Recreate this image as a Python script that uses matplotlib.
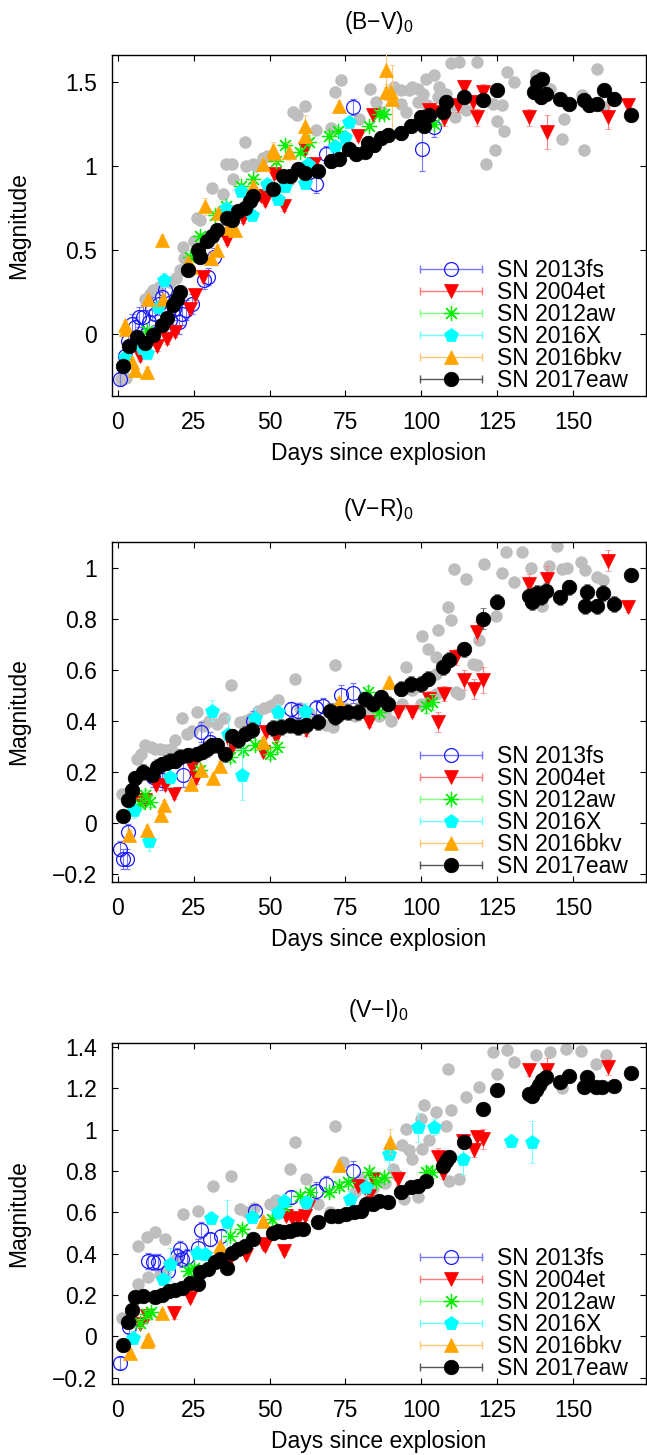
import numpy as np
import matplotlib.pyplot as plt
from matplotlib.lines import Line2D
from matplotlib.legend_handler import HandlerLine2D, HandlerTuple
from matplotlib.ticker import FuncFormatter

plt.rcParams['font.family'] = ['Liberation Sans', 'DejaVu Sans']
plt.rcParams['mathtext.default'] = 'regular'

# ---------------- Datos: (dias, color, error) ----------------
# (B-V)_0
bv_13fs = [(0.7, -0.27, 0.04), (2.3, -0.13, 0.05), (3.4, -0.045, 0.06), (4.6, 0.06, 0.06), (5.6, 0.04, 0.06),
           (6.8, 0.10, 0.06), (8.4, 0.10, 0.07), (10.1, 0.07, 0.07), (11.2, 0.15, 0.07), (12.3, 0.12, 0.07),
           (13.4, 0.18, 0.07), (14.5, 0.22, 0.07), (15.6, 0.26, 0.06), (17.2, 0.08, 0.07), (18.5, 0.15, 0.07),
           (20.0, 0.07, 0.07), (21.0, 0.12, 0.07), (22.5, 0.14, 0.06), (24.3, 0.18, 0.06), (28.2, 0.32, 0.05),
           (29.8, 0.34, 0.05), (31.5, 0.46, 0.05), (65.4, 0.89, 0.05), (68.6, 1.07, 0.05), (77.4, 1.35, 0.05),
           (100.4, 1.10, 0.13), (104.3, 1.23, 0.06)]
bv_04et = [(7.2, -0.13, 0.03), (12.7, -0.07, 0.03), (16.0, -0.03, 0.03), (18.8, 0.01, 0.03), (23.7, 0.15, 0.03),
           (25.3, 0.23, 0.03), (28.1, 0.34, 0.03), (35.9, 0.56, 0.03), (41.3, 0.69, 0.03), (47.3, 0.82, 0.03),
           (48.4, 0.79, 0.03), (51.6, 0.95, 0.03), (54.9, 0.76, 0.03), (57.1, 0.92, 0.03), (61.5, 1.10, 0.03),
           (64.5, 1.01, 0.03), (79.0, 1.18, 0.03), (84.0, 1.30, 0.03), (102.6, 1.33, 0.04), (103.5, 1.32, 0.04),
           (107.6, 1.28, 0.04), (112.0, 1.36, 0.04), (114.1, 1.47, 0.04), (116.9, 1.38, 0.04), (118.5, 1.29, 0.05),
           (120.2, 1.44, 0.05), (135.5, 1.29, 0.05), (141.6, 1.20, 0.10), (161.6, 1.29, 0.07), (168.2, 1.36, 0.03)]
bv_12aw = [(9.5, 0.02, 0.02), (23.7, 0.46, 0.02), (27.0, 0.58, 0.02), (31.9, 0.71, 0.02), (35.7, 0.76, 0.02),
           (40.5, 0.88, 0.02), (44.5, 0.92, 0.02), (52.2, 1.03, 0.02), (55.0, 1.125, 0.02), (60.0, 1.085, 0.02),
           (62.9, 1.145, 0.02), (69.5, 1.18, 0.02), (72.5, 1.21, 0.02), (82.6, 1.235, 0.02), (86.2, 1.31, 0.02),
           (87.8, 1.31, 0.02), (104.3, 1.25, 0.02)]
bv_16X = [(2.3, -0.135, 0.03), (7.8, -0.085, 0.03), (9.4, -0.115, 0.03), (13.3, 0.16, 0.03), (15.3, 0.32, 0.04),
          (35.5, 0.75, 0.03), (40.5, 0.85, 0.03), (44.3, 0.71, 0.03), (49.0, 0.89, 0.03), (52.7, 0.80, 0.03),
          (55.0, 0.88, 0.03), (61.7, 0.90, 0.03), (62.6, 1.01, 0.03), (71.4, 1.12, 0.03), (74.7, 1.17, 0.03),
          (76.3, 1.26, 0.03)]
bv_16bkv = [(2.3, 0.054, 0.03), (2.8, 0.03, 0.03), (4.5, -0.165, 0.03), (5.6, -0.215, 0.03), (9.4, -0.225, 0.03),
            (10.0, 0.21, 0.03), (14.4, 0.56, 0.03), (15.0, 0.21, 0.03), (23.1, 0.43, 0.03), (24.0, 0.40, 0.03),
            (28.6, 0.76, 0.05), (30.8, 0.45, 0.03), (32.5, 0.50, 0.03), (33.0, 0.72, 0.03), (36.3, 0.63, 0.04),
            (38.6, 0.62, 0.04), (44.6, 0.88, 0.03), (47.8, 1.01, 0.04), (51.1, 1.095, 0.05), (51.6, 1.075, 0.05),
            (56.3, 1.085, 0.05), (61.5, 1.24, 0.06), (61.5, 1.175, 0.04), (73.0, 1.355, 0.03), (88.3, 1.57, 0.10),
            (88.4, 1.44, 0.05), (90.0, 1.44, 0.05), (90.4, 1.40, 0.20)]
bv_17eaw = [(1.5, -0.19, 0.03), (3.5, -0.075, 0.03), (6.2, -0.016, 0.03), (9.0, -0.055, 0.03), (11.7, -0.006, 0.03),
            (14.5, 0.054, 0.03), (16.1, 0.093, 0.03), (18.3, 0.173, 0.03), (19.4, 0.21, 0.03), (20.5, 0.25, 0.03),
            (23.2, 0.38, 0.03), (26.3, 0.50, 0.03), (27.1, 0.46, 0.03), (29.3, 0.55, 0.03), (30.9, 0.58, 0.03),
            (32.6, 0.62, 0.03), (35.9, 0.69, 0.03), (37.5, 0.68, 0.03), (39.7, 0.73, 0.03), (41.9, 0.75, 0.03),
            (43.5, 0.79, 0.03), (44.6, 0.82, 0.03), (51.1, 0.86, 0.03), (54.4, 0.94, 0.03), (56.6, 0.94, 0.03),
            (59.3, 0.98, 0.03), (61.5, 0.96, 0.03), (65.9, 0.97, 0.03), (70.3, 1.03, 0.04), (73.0, 1.04, 0.04),
            (76.3, 1.10, 0.04), (78.5, 1.07, 0.04), (81.3, 1.085, 0.04), (82.3, 1.135, 0.04), (84.5, 1.125, 0.04),
            (86.7, 1.165, 0.04), (88.9, 1.185, 0.04), (93.3, 1.195, 0.04), (96.6, 1.24, 0.04), (99.9, 1.29, 0.04),
            (101.0, 1.24, 0.04), (102.6, 1.30, 0.04), (107.0, 1.32, 0.04), (108.1, 1.38, 0.04), (114.1, 1.41, 0.04),
            (120.2, 1.39, 0.04), (125.1, 1.45, 0.04), (137.2, 1.44, 0.04), (138.3, 1.50, 0.04), (139.9, 1.515, 0.04),
            (139.4, 1.41, 0.04), (141.0, 1.43, 0.04), (145.9, 1.40, 0.03), (148.7, 1.37, 0.03), (153.6, 1.39, 0.04),
            (155.3, 1.36, 0.04), (158.0, 1.37, 0.04), (160.2, 1.45, 0.03), (163.7, 1.40, 0.04), (169.2, 1.30, 0.03)]
bv_gris = [(1.0, -0.27), (2.5, -0.26), (9.0, 0.21), (10.5, 0.24), (11.7, 0.26), (13.5, 0.28), (17.2, 0.31),
           (19.0, 0.33), (20.4, 0.38), (21.6, 0.45), (21.5, 0.52), (24.9, 0.55), (26.0, 0.69), (27.0, 0.68),
           (30.9, 0.87), (34.6, 0.83), (35.7, 1.01), (37.5, 1.01), (37.9, 0.92), (41.8, 1.145), (42.3, 1.0),
           (44.5, 1.01), (45.5, 1.0), (47.8, 1.045), (49.0, 1.06), (57.7, 1.32), (59.0, 1.30), (61.5, 1.355),
           (65.4, 1.215), (70.3, 1.225), (71.4, 1.44), (73.6, 1.51), (79.6, 1.28), (83.0, 1.46), (85.0, 1.38),
           (87.0, 1.32), (89.0, 1.42), (91.0, 1.47), (93.3, 1.45), (93.3, 1.37), (95.0, 1.32), (96.0, 1.45),
           (97.1, 1.47), (98.8, 1.46), (99.0, 1.38), (100.5, 1.43), (101.5, 1.52), (102.0, 1.36), (104.3, 1.54),
           (105.4, 1.41), (106.0, 1.47), (108.0, 1.43), (109.8, 1.61), (110.3, 1.36), (111.0, 1.29), (112.5, 1.62),
           (114.7, 1.33), (118.5, 1.62), (121.3, 1.01), (123.5, 1.37), (124.3, 1.095), (125.1, 1.27), (126.7, 1.36),
           (127.3, 1.21), (128.4, 1.56), (130.6, 1.50), (137.7, 1.54), (142.6, 1.46), (146.3, 1.16), (147.0, 1.28),
           (153.1, 1.42), (153.6, 1.095), (158.0, 1.575), (160.2, 1.35)]

# (V-R)_0
vr_13fs = [(0.7, -0.10, 0.03), (1.8, -0.14, 0.04), (3.0, -0.14, 0.04), (3.4, -0.035, 0.03), (11.6, 0.18, 0.04),
           (14.5, 0.17, 0.04), (21.3, 0.19, 0.05), (27.5, 0.357, 0.04), (30.3, 0.318, 0.04), (44.5, 0.40, 0.04),
           (57.1, 0.445, 0.03), (59.5, 0.44, 0.03), (65.4, 0.45, 0.03), (67.5, 0.46, 0.03), (73.6, 0.50, 0.04),
           (77.4, 0.51, 0.04)]
vr_04et = [(7.2, 0.09, 0.02), (9.0, 0.09, 0.02), (12.5, 0.148, 0.02), (15.6, 0.148, 0.02), (18.5, 0.116, 0.02),
           (24.3, 0.22, 0.02), (25.6, 0.175, 0.02), (37.5, 0.30, 0.02), (47.8, 0.28, 0.02), (48.9, 0.357, 0.02),
           (52.2, 0.337, 0.02), (62.1, 0.363, 0.02), (82.9, 0.396, 0.02), (92.2, 0.435, 0.02), (97.1, 0.435, 0.02),
           (102.6, 0.487, 0.03), (105.4, 0.396, 0.04), (107.6, 0.507, 0.03), (111.4, 0.65, 0.03), (114.1, 0.56, 0.04),
           (117.4, 0.526, 0.04), (118.5, 0.747, 0.04), (120.2, 0.56, 0.05), (135.5, 0.936, 0.04),
           (141.6, 0.955, 0.05), (161.6, 1.027, 0.04), (168.2, 0.845, 0.02)]
vr_12aw = [(7.3, 0.077, 0.02), (9.0, 0.109, 0.02), (10.6, 0.083, 0.02), (27.1, 0.207, 0.02), (36.9, 0.26, 0.02),
           (41.3, 0.285, 0.02), (45.2, 0.305, 0.02), (50.0, 0.27, 0.02), (52.5, 0.30, 0.02), (82.4, 0.515, 0.02),
           (86.2, 0.435, 0.02), (101.5, 0.46, 0.03), (103.7, 0.474, 0.03)]
vr_16X = [(5.2, 0.05, 0.03), (10.1, -0.07, 0.04), (17.2, 0.18, 0.04), (30.9, 0.44, 0.04), (36.4, 0.35, 0.07),
          (40.8, 0.19, 0.10), (45.2, 0.41, 0.04), (52.8, 0.435, 0.03), (61.5, 0.44, 0.03)]
vr_16bkv = [(3.5, -0.045, 0.02), (9.4, -0.027, 0.02), (14.2, 0.031, 0.02), (15.3, 0.07, 0.02), (24.0, 0.152, 0.02),
            (27.3, 0.208, 0.02), (31.2, 0.175, 0.02), (33.6, 0.222, 0.02), (47.8, 0.318, 0.02), (72.8, 0.474, 0.02),
            (89.5, 0.552, 0.02)]
vr_17eaw = [(1.6, 0.027, 0.02), (3.3, 0.09, 0.02), (4.6, 0.13, 0.02), (5.7, 0.175, 0.03), (8.4, 0.20, 0.03),
            (11.2, 0.19, 0.03), (12.8, 0.22, 0.03), (14.5, 0.23, 0.03), (15.8, 0.237, 0.03), (17.2, 0.245, 0.03),
            (18.8, 0.245, 0.03), (20.5, 0.26, 0.03), (23.2, 0.265, 0.03), (26.0, 0.27, 0.03), (27.6, 0.28, 0.03),
            (29.3, 0.29, 0.03), (30.9, 0.305, 0.03), (32.6, 0.305, 0.03), (35.3, 0.27, 0.03), (37.5, 0.34, 0.03),
            (39.7, 0.325, 0.03), (41.9, 0.35, 0.03), (44.1, 0.365, 0.03), (51.1, 0.372, 0.03), (53.8, 0.376, 0.03),
            (56.6, 0.383, 0.03), (59.3, 0.376, 0.03), (62.1, 0.383, 0.03), (65.9, 0.396, 0.03), (70.0, 0.44, 0.03),
            (71.4, 0.415, 0.03), (73.3, 0.43, 0.03), (75.8, 0.435, 0.03), (79.3, 0.435, 0.03), (81.6, 0.484, 0.03),
            (84.0, 0.467, 0.03), (86.7, 0.493, 0.03), (88.9, 0.467, 0.03), (93.3, 0.526, 0.03), (96.6, 0.545, 0.03),
            (99.9, 0.545, 0.03), (102.1, 0.565, 0.03), (107.0, 0.61, 0.03), (109.2, 0.64, 0.03), (114.1, 0.68, 0.03),
            (120.2, 0.80, 0.04), (125.1, 0.867, 0.03), (135.5, 0.89, 0.03), (136.6, 0.865, 0.03), (138.3, 0.90, 0.03),
            (139.5, 0.885, 0.03), (141.0, 0.91, 0.03), (145.9, 0.884, 0.03), (148.7, 0.923, 0.03),
            (153.9, 0.85, 0.03), (154.7, 0.906, 0.03), (158.0, 0.848, 0.03), (160.0, 0.90, 0.03),
            (163.7, 0.858, 0.03), (169.2, 0.97, 0.02)]
vr_gris = [(1.3, 0.116), (6.3, 0.253), (7.5, 0.27), (9.0, 0.305), (10.8, 0.30), (12.3, 0.29), (14.0, 0.29),
           (15.6, 0.285), (17.5, 0.29), (18.8, 0.324), (21.0, 0.41), (22.7, 0.35), (24.5, 0.36), (25.9, 0.435),
           (28.0, 0.38), (30.0, 0.40), (32.5, 0.39), (34.8, 0.41), (37.4, 0.54), (40.1, 0.396), (42.0, 0.40),
           (44.0, 0.41), (46.3, 0.44), (48.0, 0.45), (50.0, 0.46), (51.6, 0.467), (52.8, 0.48), (58.2, 0.565),
           (60.0, 0.45), (63.0, 0.43), (68.6, 0.383), (70.8, 0.376), (71.4, 0.617), (72.0, 0.45), (75.0, 0.45),
           (78.0, 0.42), (80.0, 0.46), (83.0, 0.44), (86.0, 0.42), (88.0, 0.43), (90.0, 0.40), (93.8, 0.467),
           (95.0, 0.61), (97.0, 0.52), (99.9, 0.467), (100.4, 0.734), (102.1, 0.68), (104.8, 0.65), (104.8, 0.507),
           (104.8, 0.585), (105.4, 0.754), (108.7, 0.845), (109.8, 0.793), (110.9, 0.995), (111.4, 0.513),
           (112.5, 0.506), (114.7, 0.955), (116.9, 0.624), (118.5, 0.617), (119.1, 0.715), (120.7, 1.014),
           (124.6, 0.81), (126.7, 0.98), (127.9, 1.06), (130.6, 0.942), (133.3, 1.06), (136.1, 1.0), (139.9, 0.85),
           (142.1, 1.008), (144.8, 1.086), (146.5, 0.995), (148.0, 1.0), (152.5, 1.02), (154.0, 0.99),
           (158.0, 0.962), (160.0, 0.95)]

# (V-I)_0
vi_13fs = [(0.8, -0.128, 0.03), (3.5, 0.045, 0.03), (10.0, 0.366, 0.04), (11.5, 0.36, 0.04), (13.3, 0.36, 0.04),
           (16.5, 0.317, 0.04), (19.3, 0.39, 0.04), (20.5, 0.422, 0.04), (21.0, 0.374, 0.04), (22.6, 0.382, 0.04),
           (26.4, 0.43, 0.04), (27.4, 0.515, 0.04), (30.3, 0.47, 0.03), (34.1, 0.487, 0.03), (45.2, 0.608, 0.03),
           (57.1, 0.673, 0.03), (65.4, 0.705, 0.04), (68.6, 0.738, 0.04), (77.4, 0.80, 0.05)]
vi_04et = [(7.2, 0.06, 0.02), (9.5, 0.10, 0.02), (18.5, 0.115, 0.03), (23.7, 0.188, 0.02), (36.9, 0.374, 0.02),
           (42.2, 0.395, 0.02), (47.9, 0.447, 0.02), (48.4, 0.438, 0.02), (54.9, 0.414, 0.02), (55.5, 0.584, 0.02),
           (57.5, 0.575, 0.02), (59.3, 0.568, 0.02), (61.5, 0.584, 0.02), (62.6, 0.628, 0.02), (79.0, 0.726, 0.02),
           (82.9, 0.681, 0.02), (84.0, 0.762, 0.02), (92.2, 0.762, 0.03), (105.4, 0.87, 0.04), (107.0, 0.79, 0.03),
           (113.6, 0.948, 0.03), (117.4, 0.90, 0.03), (118.5, 0.965, 0.03), (120.2, 0.956, 0.05),
           (135.5, 1.288, 0.03), (141.6, 1.288, 0.06), (161.6, 1.304, 0.04)]
vi_12aw = [(7.3, 0.066, 0.02), (9.5, 0.107, 0.02), (11.0, 0.12, 0.02), (23.2, 0.317, 0.02), (25.0, 0.33, 0.02),
           (36.9, 0.487, 0.02), (40.8, 0.519, 0.02), (50.7, 0.568, 0.02), (54.9, 0.632, 0.02), (59.9, 0.681, 0.02),
           (63.2, 0.698, 0.02), (69.7, 0.698, 0.02), (73.0, 0.73, 0.02), (75.8, 0.746, 0.02), (82.9, 0.795, 0.02),
           (85.1, 0.746, 0.02), (87.8, 0.77, 0.02), (101.5, 0.795, 0.03), (103.7, 0.795, 0.03)]
vi_16X = [(5.1, -0.006, 0.03), (14.7, 0.277, 0.03), (17.1, 0.35, 0.08), (25.9, 0.406, 0.03), (28.6, 0.398, 0.03),
          (30.8, 0.572, 0.03), (35.8, 0.552, 0.11), (44.1, 0.58, 0.03), (52.7, 0.60, 0.03), (54.9, 0.657, 0.03),
          (62.1, 0.649, 0.03), (76.6, 0.665, 0.04), (81.8, 0.722, 0.04), (89.5, 0.883, 0.07), (98.8, 1.013, 0.07),
          (104.3, 1.013, 0.04), (113.6, 0.86, 0.08), (129.5, 0.948, 0.03), (136.4, 0.94, 0.10)]
vi_16bkv = [(4.0, -0.08, 0.02), (9.4, -0.02, 0.02), (10.0, -0.01, 0.02), (14.4, 0.115, 0.02), (33.6, 0.438, 0.02),
            (47.8, 0.56, 0.02), (73.0, 0.83, 0.02), (89.8, 0.942, 0.06)]
vi_17eaw = [(1.6, -0.039, 0.02), (3.3, 0.07, 0.02), (4.6, 0.13, 0.02), (5.5, 0.19, 0.02), (8.4, 0.196, 0.02),
            (12.3, 0.19, 0.02), (14.5, 0.20, 0.02), (16.7, 0.22, 0.02), (18.8, 0.224, 0.02), (21.0, 0.236, 0.02),
            (23.8, 0.26, 0.02), (26.5, 0.252, 0.02), (27.1, 0.31, 0.02), (29.8, 0.325, 0.02), (32.0, 0.358, 0.02),
            (33.7, 0.374, 0.02), (35.9, 0.333, 0.02), (37.5, 0.406, 0.02), (39.7, 0.422, 0.02), (41.9, 0.438, 0.02),
            (44.6, 0.47, 0.02), (51.1, 0.50, 0.02), (52.8, 0.51, 0.02), (54.4, 0.503, 0.02), (56.6, 0.511, 0.02),
            (58.8, 0.519, 0.02), (61.0, 0.519, 0.02), (65.9, 0.552, 0.02), (70.3, 0.584, 0.02), (72.5, 0.584, 0.02),
            (75.2, 0.592, 0.02), (77.7, 0.60, 0.02), (80.2, 0.608, 0.02), (81.8, 0.64, 0.02), (84.0, 0.64, 0.02),
            (86.2, 0.657, 0.02), (88.9, 0.649, 0.02), (93.3, 0.698, 0.02), (96.6, 0.722, 0.02), (98.8, 0.73, 0.02),
            (101.5, 0.754, 0.02), (107.0, 0.827, 0.02), (108.1, 0.85, 0.02), (109.2, 0.87, 0.02), (114.1, 0.94, 0.02),
            (120.2, 1.10, 0.03), (125.1, 1.19, 0.02), (135.5, 1.175, 0.02), (136.6, 1.164, 0.02), (137.7, 1.19, 0.02),
            (138.8, 1.215, 0.02), (139.9, 1.24, 0.02), (141.0, 1.256, 0.02), (145.9, 1.23, 0.02), (148.7, 1.26, 0.02),
            (153.6, 1.207, 0.02), (154.7, 1.256, 0.02), (157.5, 1.207, 0.02), (159.6, 1.207, 0.02),
            (163.7, 1.21, 0.02), (169.2, 1.275, 0.02)]
vi_gris = [(1.2, 0.09), (6.7, 0.438), (9.4, 0.479), (12.2, 0.503), (15.5, 0.47), (6.7, 0.252), (10.0, 0.29),
           (13.8, 0.30), (15.6, 0.309), (19.3, 0.374), (21.5, 0.592), (26.4, 0.608), (31.4, 0.73), (37.4, 0.778),
           (40.1, 0.617), (42.5, 0.60), (45.0, 0.62), (50.0, 0.64), (52.0, 0.66), (56.6, 0.81), (58.2, 0.94),
           (62.1, 0.762), (66.0, 0.64), (70.0, 0.60), (71.4, 1.02), (74.1, 0.843), (78.0, 0.70), (80.0, 0.76),
           (84.0, 0.72), (88.0, 0.74), (90.6, 0.81), (92.0, 0.78), (93.8, 0.924), (94.4, 0.665), (95.0, 1.005),
           (96.0, 0.90), (97.1, 0.859), (98.8, 0.673), (99.9, 1.053), (100.4, 0.908), (101.0, 1.118), (102.5, 0.95),
           (104.8, 1.086), (108.1, 1.02), (108.7, 1.296), (109.2, 0.754), (109.8, 1.094), (112.5, 0.762),
           (114.7, 1.158), (119.1, 1.207), (123.5, 1.377), (125.1, 1.272), (128.4, 1.385), (130.6, 1.328),
           (137.7, 1.36), (142.6, 1.377), (146.5, 1.2), (147.6, 1.393), (152.5, 1.38), (157.5, 1.32), (160.8, 1.36)]

etiquetas = ['SN 2013fs', 'SN 2004et', 'SN 2012aw', 'SN 2016X', 'SN 2016bkv', 'SN 2017eaw']
titulos = ['(B\u2212V)$_0$', '(V\u2212R)$_0$', '(V\u2212I)$_0$']

# estilo de cada supernova: marcador, cara, borde, color de la barra, tamaño
estilos = [
    ('o', 'none', '#1a1aff', '#7878ff', 10),
    ('v', '#ff0000', '#ff0000', '#ff7a7a', 9.5),
    ((8, 2, 0), '#00ee00', '#00ee00', '#80ff80', 11),
    ('p', '#00ffff', '#00ffff', '#70ffff', 10),
    ('^', '#ffa500', '#ffa500', '#ffc878', 9.5),
    ('o', 'black', 'black', '#555555', 10.5),
]

paneles = [
    (titulos[0], [bv_13fs, bv_04et, bv_12aw, bv_16X, bv_16bkv, bv_17eaw], bv_gris,
     (-0.37, 1.66), [0, 0.5, 1, 1.5], [0.173, 0.7278, 0.825, 0.2344]),
    (titulos[1], [vr_13fs, vr_04et, vr_12aw, vr_16X, vr_16bkv, vr_17eaw], vr_gris,
     (-0.23, 1.10), [-0.2, 0, 0.2, 0.4, 0.6, 0.8, 1.0], [0.173, 0.3938, 0.825, 0.2337]),
    (titulos[2], [vi_13fs, vi_04et, vi_12aw, vi_16X, vi_16bkv, vi_17eaw], vi_gris,
     (-0.23, 1.42), [-0.2, 0, 0.2, 0.4, 0.6, 0.8, 1.0, 1.2, 1.4], [0.173, 0.0488, 0.825, 0.2344]),
]

fs = 16.5
fig = plt.figure(figsize=(6.47, 14.55), dpi=100)
fmt = FuncFormatter(lambda v, p: ('%g' % v).replace('-', '\u2212'))

for titulo, series, gris, ylim, yticks, pos in paneles:
    ax = fig.add_axes(pos)
    g = np.array(gris)
    ax.plot(g[:, 0], g[:, 1], 'o', color='#bebebe', ms=9, mec='none', zorder=1)

    handles = []
    hmap = {}
    for k, (datos, (mk, cara, borde, ebar, ms)) in enumerate(zip(series, estilos)):
        d = np.array(datos)
        ax.errorbar(d[:, 0], d[:, 1], yerr=d[:, 2], marker=mk, ls='none', ms=ms,
                    mfc=cara, mec=borde, mew=0.9 if k in (0, 2) else 0.5,
                    ecolor=ebar, elinewidth=0.8, capsize=2, capthick=0.8, zorder=2 + k)
        linea = Line2D([], [], color=ebar, lw=1, marker='|', ms=6, mew=1)
        punto = Line2D([], [], ls='none', marker=mk, ms=ms, mfc=cara, mec=borde,
                       mew=0.9 if k in (0, 2) else 0.5)
        hmap[linea] = HandlerLine2D(numpoints=2, marker_pad=0)
        hmap[punto] = HandlerLine2D(numpoints=1)
        handles.append((linea, punto))
    hmap[tuple] = HandlerTuple()

    ax.legend(handles, etiquetas, handler_map=hmap, loc='lower right', bbox_to_anchor=(0.975, -0.002),
              frameon=False, fontsize=fs, handlelength=2.7, handletextpad=0.65, labelspacing=-0.04,
              borderpad=0.2, borderaxespad=0.0)

    ax.set_xlim(-2, 174)
    ax.set_ylim(*ylim)
    ax.set_xticks([0, 25, 50, 75, 100, 125, 150])
    ax.set_yticks(yticks)
    ax.yaxis.set_major_formatter(fmt)
    ax.tick_params(direction='in', top=True, right=True, length=4, width=0.8, labelsize=fs, pad=11)
    for s in ax.spines.values():
        s.set_linewidth(1.0)
    ax.set_title(titulo, fontsize=fs, pad=19)
    ax.set_xlabel('Days since explosion', fontsize=fs)
    ax.xaxis.set_label_coords(0.5, -0.135)
    ax.set_ylabel('Magnitude', fontsize=fs)
    ax.yaxis.set_label_coords(-0.153, 0.5)

fig.savefig('out.png', dpi=100)
